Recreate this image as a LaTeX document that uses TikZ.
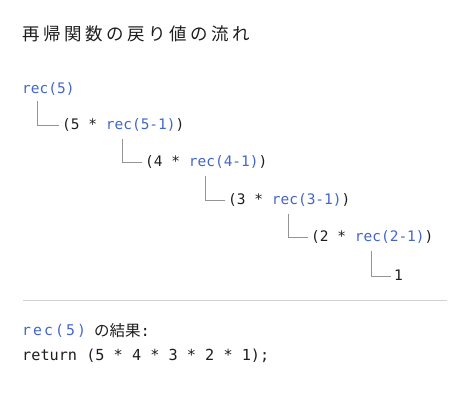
\documentclass[tikz,border=0pt]{standalone}
\usepackage{fontspec}
\setmonofont{DejaVu Sans Mono}
\newfontfamily\cjk{Noto Sans CJK JP}
\newfontfamily\cjktitle[LetterSpace=20]{Noto Sans CJK JP}
\newfontfamily\monowide[LetterSpace=14]{DejaVu Sans Mono}
\definecolor{recblue}{HTML}{4466CC}
\definecolor{txt}{HTML}{1E1E1E}
\definecolor{linegray}{HTML}{949494}
\definecolor{sepgray}{HTML}{D2D2D2}
\begin{document}
\begin{tikzpicture}[x=1pt,y=-1pt,
  code/.style={inner sep=0pt, anchor=west, text=txt,
    font=\ttfamily\fontsize{14.5}{17}\selectfont, text height=11pt, text depth=1.9pt},
  conn/.style={draw=linegray, line width=0.8pt},
  sepline/.style={draw=sepgray, line width=0.9pt}]
\useasboundingbox[fill=white] (0,0) rectangle (473,409);

\node[inner sep=0pt, anchor=west, text=txt, font=\cjktitle\fontsize{17.5}{20}\selectfont] (title) at (22,34) {再帰関数の戻り値の流れ};

\node[code] (r0) at (22,89) {\textcolor{recblue}{rec(5)}};
\node[code] (r1) at (62,125) {(5 * \textcolor{recblue}{rec(5-1)})};
\node[code] (r2) at (145,162) {(4 * \textcolor{recblue}{rec(4-1)})};
\node[code] (r3) at (228,200) {(3 * \textcolor{recblue}{rec(3-1)})};
\node[code] (r4) at (311,237) {(2 * \textcolor{recblue}{rec(2-1)})};
\node[code] (r5) at (394,276) {1};

\draw[conn] ([xshift=15pt,yshift=-5.5pt]r0.south west) |- ([xshift=-3pt]r1.west);
\draw[conn] ([xshift=60pt,yshift=-7pt]r1.south west) |- ([xshift=-3pt]r2.west);
\draw[conn] ([xshift=60pt,yshift=-7pt]r2.south west) |- ([xshift=-3pt]r3.west);
\draw[conn] ([xshift=60pt,yshift=-7pt]r3.south west) |- ([xshift=-3pt]r4.west);
\draw[conn] ([xshift=60pt,yshift=-7pt]r4.south west) |- ([xshift=-3pt]r5.west);

\coordinate (sepA) at (23,300);
\coordinate (sepB) at (447,300);
\draw[sepline] (sepA) -- (sepB);

\node[code, font=\monowide\fontsize{14.8}{17}\selectfont, text=recblue] (res) at (22,331) {rec(5)};
\node[inner sep=0pt, anchor=west, text=txt, font=\cjk\fontsize{15.5}{18}\selectfont] (resj) at (94,331) {の結果\texttt{:}};
\node[code, font=\ttfamily\fontsize{15.2}{18}\selectfont] (ret) at (22,356) {return (5 * 4 * 3 * 2 * 1);};
\end{tikzpicture}
\end{document}
